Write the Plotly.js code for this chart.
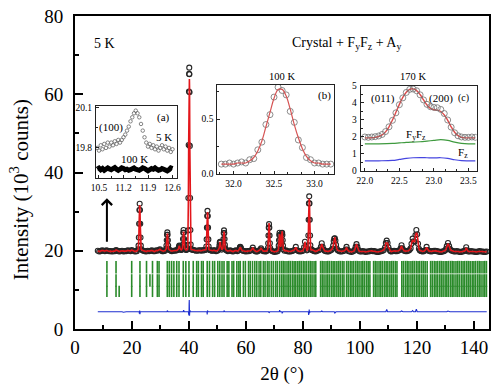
<!DOCTYPE html>
<html>
<head>
<meta charset="utf-8">
<script src="https://cdn.plot.ly/plotly-3.0.1.min.js"></script>
<style>
  html, body { margin: 0; padding: 0; background: #fff; }
  #chart { width: 496px; height: 389px; }
</style>
</head>
<body>
<div id="chart"></div>
<script>
// ---------- Main powder pattern (5 K): observed intensity, [2theta, I (10^3 counts)] ----------
const observed = [
  [8.0,20.0],[8.5,19.8],[9.0,19.9],[9.5,20.1],[10.0,20.0],[10.5,19.9],[11.0,20.1],[11.5,20.0],[12.0,19.9],
  [12.5,19.9],[13.0,19.8],[13.5,19.9],[14.0,19.9],[14.4,20.2],[14.7,20.0],[15.0,20.0],[15.5,19.8],[16.0,19.9],
  [16.5,20.0],[17.0,19.8],[17.5,19.9],[18.0,19.9],[18.5,20.1],[19.0,20.0],[19.5,19.9],[19.9,20.2],[20.4,20.0],
  [21.0,19.8],[21.4,19.9],[21.7,19.9],
  [22.2,20.4],[22.3,21.3],[22.4,23.4],[22.5,26.9],[22.6,30.4],[22.7,32.0],[22.8,30.4],[22.9,26.9],[23.0,23.4],[23.1,21.3],[23.2,20.4],
  [23.6,20.1],[24.0,20.0],[24.5,19.9],[25.0,19.8],[25.5,20.0],[26.0,19.9],[26.5,20.0],[27.0,20.1],[27.5,19.9],
  [28.0,19.9],[28.5,20.1],[29.0,20.0],[29.4,20.2],[29.8,20.4],[30.2,20.1],[30.6,19.9],[31.0,19.9],[31.3,20.0],[31.6,20.0],
  [32.0,20.5],[32.1,21.35],[32.2,22.7],[32.3,24.1],[32.4,24.7],[32.5,24.1],[32.6,22.7],[32.7,21.35],[32.8,20.5],
  [33.1,20.2],[33.4,20.1],[33.7,20.0],[34.0,19.9],[34.5,20.0],[35.0,20.0],[35.4,20.1],[35.8,20.1],[36.0,20.2],
  [36.3,20.4],[36.4,20.75],[36.5,21.1],[36.6,21.3],[36.7,21.1],[36.8,20.75],[36.9,20.4],
  [37.1,20.3],[37.3,20.2],[37.5,20.3],
  [37.7,20.6],[37.8,21.5],[37.9,23.0],[38.0,24.6],[38.1,25.3],[38.2,24.6],[38.3,23.0],[38.4,21.5],[38.5,20.6],
  [38.8,20.3],[39.0,20.2],[39.3,20.3],
  [39.5,20.4],[39.6,21.5],[39.7,25.2],[39.8,33.5],[39.9,47.0],[40.0,60.7],[40.05,65.2],[40.1,66.8],[40.15,65.1],
  [40.2,60.5],[40.3,46.8],[40.4,33.5],[40.5,25.3],[40.6,21.6],[40.7,20.4],
  [40.9,20.3],[41.2,20.3],[41.6,20.2],[42.0,20.1],[42.5,20.0],[43.0,20.0],[43.5,20.1],[44.0,20.1],[44.5,20.0],
  [45.0,20.2],[45.3,20.1],[45.6,20.2],
  [46.0,20.3],[46.1,21.1],[46.2,22.9],[46.3,25.9],[46.4,28.9],[46.5,30.2],[46.6,28.9],[46.7,25.9],[46.8,22.9],[46.9,21.1],[47.0,20.3],
  [47.3,20.2],[47.6,20.1],[48.0,20.0],[48.3,20.0],[48.7,20.1],[49.0,20.1],[49.5,19.9],[50.0,20.0],[50.3,20.2],
  [50.6,20.7],[50.7,21.4],[50.8,22.1],[50.9,22.3],[51.0,22.1],[51.1,21.4],[51.2,20.7],
  [51.5,20.3],
  [51.9,20.6],[52.0,21.5],[52.1,23.0],[52.2,24.5],[52.3,25.2],[52.4,24.5],[52.5,23.0],[52.6,21.5],[52.7,20.6],
  [52.95,20.2],[53.2,20.1],[53.6,19.9],[54.0,20.0],[54.5,20.1],[55.0,19.9],[55.5,19.8],[56.0,20.0],[56.5,20.1],
  [57.0,19.9],[57.4,20.1],
  [57.8,20.6],[57.9,20.9],[58.0,21.0],[58.1,20.9],[58.2,20.6],
  [58.6,20.1],[59.0,20.0],[59.5,19.9],[60.0,19.8],[60.5,19.9],[61.0,19.9],[61.5,20.0],[62.0,20.2],[62.4,20.8],
  [62.8,20.2],[63.2,19.9],[63.6,19.8],[64.0,19.8],[64.5,20.0],[65.0,20.3],[65.3,20.6],[65.7,20.1],[66.1,19.9],
  [66.5,19.9],[66.9,19.8],[67.2,19.9],[67.45,20.1],
  [67.7,20.7],[67.8,21.9],[67.9,23.9],[68.0,25.9],[68.1,26.8],[68.2,25.9],[68.3,23.9],[68.4,21.9],[68.5,20.7],
  [68.75,20.1],[69.0,20.0],[69.5,19.8],[70.0,19.7],[70.4,19.8],[70.8,19.8],[71.1,19.9],
  [71.4,20.4],[71.5,21.3],[71.6,22.7],[71.7,24.0],[71.8,24.6],[71.9,24.0],[72.0,22.8],[72.1,21.6],[72.2,21.0],
  [72.3,21.4],[72.4,22.5],[72.5,23.8],[72.6,24.5],[72.7,24.6],[72.8,24.0],[72.9,22.7],[73.0,21.3],[73.1,20.4],
  [73.5,20.0],[74.0,20.1],[74.5,19.9],[75.0,19.8],[75.5,19.8],[76.0,19.9],[76.5,20.0],[77.0,20.2],[77.5,21.0],
  [78.0,20.1],[78.5,19.9],[79.0,19.8],[79.5,19.9],[80.0,20.0],
  [80.4,20.9],[80.7,22.3],[81.0,21.0],[81.4,20.1],
  [81.7,20.3],[81.8,21.4],[81.9,23.9],[82.0,27.9],[82.1,32.1],[82.2,33.9],[82.3,32.1],[82.4,27.9],[82.5,23.9],[82.6,21.4],[82.7,20.3],
  [83.0,20.3],[83.3,20.2],[83.6,20.0],[84.0,19.9],[84.5,19.8],[85.0,20.0],[85.5,20.1],[86.0,20.3],
  [86.3,21.0],[86.6,21.9],[86.9,21.0],[87.3,20.3],[87.6,20.0],[88.0,19.9],[88.5,19.8],[89.0,19.8],[89.5,20.0],
  [90.0,20.2],[90.3,20.5],
  [90.6,21.3],[90.8,22.5],[91.0,23.1],[91.2,23.2],[91.4,22.6],[91.6,21.5],[91.9,20.5],
  [92.2,20.1],[92.5,20.0],[93.0,19.8],[93.5,19.8],[94.0,19.9],[94.5,20.0],[95.0,20.3],[95.3,21.0],[95.6,20.3],
  [96.0,19.9],[96.5,19.8],[97.0,19.7],[97.5,19.8],[98.0,20.0],[98.2,20.3],
  [98.5,21.0],[98.8,21.7],[99.1,21.0],[99.35,20.3],[99.6,20.0],
  [100.0,19.8],[100.5,19.8],[101.0,19.9],[101.5,19.8],[102.0,19.7],[102.5,19.8],[103.0,19.8],[103.5,19.9],
  [104.0,20.0],[104.5,19.9],[105.0,19.9],[105.5,19.8],[106.0,19.7],[106.5,19.7],[107.0,19.8],[107.5,19.9],
  [108.0,20.0],[108.4,20.2],
  [108.8,20.8],[109.1,22.0],[109.4,22.6],[109.7,22.0],[110.0,20.9],[110.5,20.1],
  [110.75,19.9],[111.0,19.8],[111.5,19.9],[112.0,20.0],[112.5,19.9],[113.0,19.9],[113.5,20.0],[114.0,20.2],
  [114.3,20.6],[114.6,21.4],[114.9,20.6],[115.1,20.3],[115.5,20.0],[116.0,19.9],[116.5,19.9],[117.0,20.0],[117.4,20.2],
  [117.8,20.6],[118.1,21.8],[118.5,23.1],[118.8,22.4],[119.2,22.3],[119.5,24.0],[119.8,25.3],[120.1,24.2],[120.4,21.8],[120.7,20.5],
  [121.0,20.1],[121.2,20.0],[121.6,19.9],[122.0,19.8],[122.5,19.9],[123.0,20.2],[123.4,21.0],[123.8,20.2],
  [124.1,20.0],[124.5,19.9],[125.0,19.8],[125.5,19.9],[126.0,20.0],[126.5,20.0],[127.0,19.9],[127.5,19.8],
  [128.0,19.7],[128.5,19.7],[129.0,19.8],[129.5,19.9],[130.0,20.1],[130.25,20.5],
  [130.5,21.2],[130.9,22.0],[131.3,21.2],[131.55,20.5],[131.8,20.2],
  [132.2,20.0],[132.5,20.0],[133.0,19.8],[133.5,19.8],[134.0,19.9],[134.5,19.8],[135.0,19.7],[135.5,19.7],
  [136.0,19.8],[136.5,19.9],[137.0,20.1],[137.3,20.9],[137.6,20.1],[138.0,19.8],[138.5,19.8],[139.0,19.9],
  [139.5,19.8],[140.0,19.8],[140.5,19.7],[141.0,19.7],[141.5,19.8],[142.0,19.9],[142.5,19.8],[143.0,19.8],
  [143.5,19.7],[144.0,19.7],[144.5,19.8]
];

// Refinement residual (observed - calculated) at the points where the fit departs from the data
const residual = [
  [12.0,0.1],[17.0,-0.1],[22.6,-0.5],[22.7,0.3],[22.8,-0.6],[28.0,0.1],[32.4,0.3],[38.1,0.4],
  [39.9,-0.6],[40.0,-0.9],[40.05,2.0],[40.1,3.0],[40.15,1.2],[40.2,-1.0],[40.3,0.4],
  [46.4,-0.7],[46.5,0.3],[46.6,-0.5],[52.3,0.3],[58.0,0.15],[68.1,-0.3],[71.8,0.4],[72.7,-0.4],[77.5,0.15],
  [82.0,-0.8],[82.1,-0.5],[82.2,0.6],[82.3,-0.3],[86.6,0.2],[91.2,-0.3],[95.3,0.15],[109.4,0.6],
  [114.6,0.2],[118.5,0.3],[119.8,0.7],[123.4,0.15],[130.9,0.2],[137.3,0.15]
];

// Bragg reflection positions (2theta) for the three refined phases
const braggShared = [
  11.2, 14.4, 19.9, 22.8, 25.1, 27.2, 28.9, 29.5, 32.4, 33.1, 33.9, 34.7, 35.7, 36.5, 38.0, 38.9, 40.0,
  41.5, 42.7, 43.3, 44.4, 45.0, 46.4, 47.2, 48.3, 49.0, 50.1, 50.8, 51.6, 52.3, 53.4, 54.0, 55.1, 55.7,
  56.8, 57.5, 58.0, 59.1, 59.8, 60.9, 61.5, 62.3, 63.1, 63.8, 64.6, 65.2, 66.1, 66.7, 67.5, 68.1, 68.9,
  69.6, 70.4, 71.0, 71.8, 72.5, 73.1, 73.7, 74.4, 75.0, 75.6, 76.3, 76.9, 77.5, 78.2, 78.8, 79.4, 80.1,
  80.7, 81.3, 82.0, 82.6, 83.2, 83.9, 84.5, 86.2, 86.8, 87.4, 88.1, 88.7, 89.3, 90.0, 90.6, 91.2, 91.9,
  92.5, 93.1, 93.8, 94.4, 95.3, 95.9, 96.6, 97.2, 97.8, 98.5, 99.1, 99.7, 100.4, 101.0, 101.6, 102.3,
  102.9, 103.5, 104.8, 105.4, 106.0, 106.7, 107.3, 107.9, 108.6, 109.2, 109.8, 110.5, 111.1, 111.7,
  112.4, 113.0, 114.7, 115.3, 116.0, 116.6, 117.2, 117.9, 118.5, 119.1, 119.8, 120.4, 121.0, 121.7,
  122.3, 122.9, 123.6, 124.8, 125.4, 126.1, 126.7, 127.3, 128.0, 128.6, 129.2, 129.9, 130.5, 131.1,
  131.8, 132.4, 133.0, 133.7, 134.3, 134.9, 135.6, 136.2, 136.8, 137.5, 138.1, 138.7, 139.4, 140.0,
  140.6, 141.3, 141.9, 142.5, 143.2, 143.8, 144.4
];
const braggCrystalExtra = [];
const braggFyFzExtra = [26.3];
const braggAyExtra = [15.5];

// ---------- Inset (a): (100) reflection, 5 K vs 100 K ----------
const aTheta = [10.45,10.50,10.55,10.60,10.65,10.70,10.75,10.80,10.85,10.90,10.95,11.00,11.05,11.10,11.15,
  11.20,11.25,11.30,11.35,11.40,11.45,11.50,11.55,11.60,11.65,11.70,11.75,11.80,11.85,11.90,11.95,12.00,
  12.05,12.10,12.15,12.20,12.25,12.30,12.35,12.40,12.45,12.50,12.55,12.60];
const a5K = [19.80,19.78,19.82,19.79,19.83,19.80,19.84,19.81,19.84,19.82,19.85,19.83,19.86,19.84,19.86,
  19.88,19.90,19.93,19.96,20.00,20.03,20.06,20.08,20.06,20.03,19.98,19.93,19.88,19.84,19.81,19.83,19.80,
  19.82,19.79,19.81,19.78,19.80,19.82,19.79,19.81,19.78,19.80,19.77,19.79];
const a100K = [19.640,19.648,19.636,19.645,19.632,19.640,19.650,19.642,19.636,19.645,19.652,19.640,19.632,
  19.640,19.650,19.646,19.636,19.640,19.632,19.636,19.645,19.650,19.640,19.636,19.632,19.640,19.650,19.646,
  19.636,19.628,19.636,19.645,19.640,19.650,19.640,19.632,19.636,19.645,19.640,19.632,19.628,19.636,19.650,19.645];
const aTickVals = [10.5, 11.2, 11.9, 12.6];
const aTickText = ['10.5', '11.2', '11.9', '12.6'];
const aYTickVals = [19.8, 20.1];
const aYTickText = ['19.8', '20.1'];

// ---------- Inset (b): 100 K peak near 32.6 deg ----------
const bTheta = [31.85,31.90,31.95,32.00,32.05,32.10,32.15,32.20,32.25,32.30,32.35,32.40,32.45,32.50,
  32.55,32.60,32.65,32.70,32.75,32.80,32.85,32.90,32.95,33.00,33.05,33.10,33.15,33.20];
const bObs = [0.09,0.09,0.10,0.09,0.10,0.11,0.10,0.13,0.14,0.22,0.29,0.45,0.54,0.70,0.79,0.76,0.72,0.57,
  0.47,0.31,0.24,0.15,0.13,0.10,0.10,0.09,0.09,0.09];
const bCalc = [0.09,0.09,0.09,0.09,0.10,0.10,0.10,0.12,0.15,0.21,0.30,0.43,0.56,0.69,0.77,0.77,0.71,0.59,
  0.45,0.33,0.23,0.16,0.12,0.10,0.10,0.09,0.09,0.09];
const bTickVals = [32.0, 32.5, 33.0];
const bTickText = ['32.0', '32.5', '33.0'];
const bYTickVals = [0, 0.5];
const bYTickText = ['0.0', '0.5'];

// ---------- Inset (c): 170 K (011)/(200) doublet with phase contributions ----------
const cTheta = [22.00,22.05,22.10,22.15,22.20,22.25,22.30,22.35,22.40,22.45,22.50,22.55,22.60,22.65,22.70,
  22.75,22.80,22.85,22.90,22.95,23.00,23.05,23.10,23.15,23.20,23.25,23.30,23.35,23.40,23.45,23.50,23.55,23.60];
const cObs = [2.00,1.98,2.00,2.02,2.06,2.15,2.32,2.60,2.98,3.42,3.90,4.30,4.62,4.80,4.82,4.72,4.48,4.18,
  3.92,3.78,3.74,3.72,3.62,3.38,3.00,2.58,2.25,2.07,2.00,1.98,1.98,2.00,1.98];
const cCalc = [1.95,1.95,1.96,1.98,2.03,2.12,2.30,2.60,3.00,3.45,3.92,4.33,4.63,4.80,4.83,4.73,4.50,4.18,
  3.88,3.68,3.60,3.58,3.50,3.30,2.98,2.60,2.28,2.08,1.98,1.95,1.95,1.95,1.95];
const cPhaseTheta = [22.0,22.2,22.4,22.5,22.6,22.7,22.8,22.9,23.0,23.1,23.2,23.3,23.4,23.5,23.6];
const cFyFz = [1.60,1.60,1.62,1.65,1.68,1.70,1.72,1.76,1.80,1.84,1.80,1.70,1.63,1.60,1.60];
const cFz = [0.60,0.60,0.62,0.68,0.74,0.78,0.79,0.78,0.77,0.78,0.74,0.66,0.61,0.60,0.60];
const cTickVals = [22.0, 22.5, 23.0, 23.5];
const cTickText = ['22.0', '22.5', '23.0', '23.5'];
const cYTickVals = [0, 1, 2, 3, 4, 5];
const cYTickText = ['0', '1', '2', '3', '4', '5'];

// Main axis ticks
const mainXTicks = [0, 20, 40, 60, 80, 100, 120, 140];
const mainYTicks = [0, 20, 40, 60, 80];

// ---------- derived series ----------
const twoTheta = observed.map(p => p[0]);
const yObs = observed.map(p => p[1]);
const residMap = new Map(residual.map(p => [p[0].toFixed(2), p[1]]));
const yResid = twoTheta.map(t => residMap.get(t.toFixed(2)) || 0);
const yCalc = yObs.map((v, i) => v - yResid[i]);
const diffOffset = 4.4;
const yDiff = yResid.map(r => r + diffOffset);

const rowLevels = { crystal: 15.8, fyfz: 12.4, ay: 9.6 };
const braggRows = [
  { pos: braggShared.concat(braggCrystalExtra), level: rowLevels.crystal, size: 9 },
  { pos: braggShared.concat(braggFyFzExtra), level: rowLevels.fyfz, size: 9 },
  { pos: braggShared.concat(braggAyExtra), level: rowLevels.ay, size: 8 }
];

const RED = '#e3161b', GREEN = '#2a8a2a', BLUE = '#1e2fd0';

const traces = [];
braggRows.forEach(r => traces.push({
  type: 'scatter', mode: 'markers', x: r.pos, y: r.pos.map(() => r.level),
  marker: { symbol: 'line-ns', size: r.size, color: GREEN, line: { width: 1.6, color: GREEN } },
  hoverinfo: 'skip'
}));
traces.push({ type: 'scatter', mode: 'lines', x: twoTheta, y: yDiff,
  line: { color: BLUE, width: 1.1 } });
traces.push({ type: 'scatter', mode: 'markers', x: twoTheta, y: yObs,
  marker: { symbol: 'circle-open', size: 5, color: '#262626', line: { width: 1.1 } } });
traces.push({ type: 'scatter', mode: 'lines', x: twoTheta, y: yCalc,
  line: { color: RED, width: 1.6 } });

// inset (a)
traces.push({ type: 'scatter', mode: 'markers', x: aTheta, y: a5K, xaxis: 'x2', yaxis: 'y2',
  marker: { symbol: 'circle-open', size: 3.5, color: '#666', line: { width: 0.8 } } });
traces.push({ type: 'scatter', mode: 'lines', x: aTheta, y: a100K, xaxis: 'x2', yaxis: 'y2',
  line: { color: '#000', width: 5 } });
// inset (b)
traces.push({ type: 'scatter', mode: 'markers', x: bTheta, y: bObs, xaxis: 'x3', yaxis: 'y3',
  marker: { symbol: 'circle-open', size: 6, color: '#6e6e6e', line: { width: 0.8 } } });
traces.push({ type: 'scatter', mode: 'lines', x: bTheta, y: bCalc, xaxis: 'x3', yaxis: 'y3',
  line: { color: '#d65454', width: 1.2, shape: 'spline' } });
// inset (c)
traces.push({ type: 'scatter', mode: 'lines', x: cPhaseTheta, y: cFyFz, xaxis: 'x4', yaxis: 'y4',
  line: { color: '#3f9a3f', width: 1.2, shape: 'spline' } });
traces.push({ type: 'scatter', mode: 'lines', x: cPhaseTheta, y: cFz, xaxis: 'x4', yaxis: 'y4',
  line: { color: '#4646e0', width: 1.2, shape: 'spline' } });
traces.push({ type: 'scatter', mode: 'lines', x: cTheta, y: cCalc, xaxis: 'x4', yaxis: 'y4',
  line: { color: '#e04a4a', width: 1.4, shape: 'spline' } });
traces.push({ type: 'scatter', mode: 'markers', x: cTheta, y: cObs, xaxis: 'x4', yaxis: 'y4',
  marker: { symbol: 'circle-open', size: 6, color: '#707070', line: { width: 0.8 } } });

function insetAxis(domain, range, vals, text, minorVals, anchor) {
  return {
    domain: domain, range: range, anchor: anchor,
    tickmode: 'array', tickvals: vals, ticktext: text,
    ticks: 'inside', ticklen: 3, tickwidth: 1, tickcolor: '#222',
    minor: { tickmode: 'array', tickvals: minorVals, ticks: 'inside', ticklen: 2, tickwidth: 1, tickcolor: '#222' },
    showline: true, linewidth: 1, linecolor: '#222', mirror: true,
    showgrid: false, zeroline: false, ticklabelstandoff: 1,
    tickfont: { size: 9.5, family: 'Liberation Serif' }
  };
}

const serif = 'Liberation Serif, Times New Roman, serif';
const layout = {
  width: 496, height: 389,
  margin: { l: 75, r: 7, t: 16, b: 60 },
  paper_bgcolor: '#fff', plot_bgcolor: '#fff',
  font: { family: serif, color: '#000', size: 19 },
  showlegend: false,
  xaxis: {
    domain: [0, 1], range: [0, 145.3], anchor: 'y',
    tickmode: 'array', tickvals: mainXTicks,
    ticks: 'inside', ticklen: 8, tickwidth: 2, tickcolor: '#000',
    minor: { tickmode: 'array', tickvals: [10, 30, 50, 70, 90, 110, 130], ticks: 'inside', ticklen: 4, tickwidth: 2, tickcolor: '#000' },
    showline: true, linewidth: 2, linecolor: '#000', mirror: true,
    showgrid: false, zeroline: false,
    tickfont: { size: 19 },
    title: { text: '2θ (°)', font: { size: 19 }, standoff: 10 }
  },
  yaxis: {
    domain: [0, 1], range: [0, 80], anchor: 'x',
    tickmode: 'array', tickvals: mainYTicks,
    ticks: 'inside', ticklen: 8, tickwidth: 2, tickcolor: '#000',
    minor: { tickmode: 'array', tickvals: [10, 30, 50, 70], ticks: 'inside', ticklen: 4, tickwidth: 2, tickcolor: '#000' },
    showline: true, linewidth: 2, linecolor: '#000', mirror: true,
    showgrid: false, zeroline: false, ticklabelstandoff: 6,
    tickfont: { size: 19 }
  },
  xaxis2: insetAxis([0.0507, 0.2452], [10.414, 12.714], aTickVals, aTickText, [10.85, 11.55, 12.25], 'y2'),
  yaxis2: insetAxis([0.4824, 0.7125], [19.574, 20.115], aYTickVals, aYTickText, [19.65, 19.95], 'x2'),
  xaxis3: insetAxis([0.3437, 0.6256], [31.80, 33.24], bTickVals, bTickText,
    [31.8333, 32.1667, 32.3333, 32.6667, 32.8333, 33.1667], 'y3'),
  yaxis3: insetAxis([0.4952, 0.7796], [0, 0.81], bYTickVals, bYTickText, [0.25, 0.75], 'x3'),
  xaxis4: insetAxis([0.6901, 0.9703], [21.94, 23.62], cTickVals, cTickText,
    [22.1667, 22.3333, 22.6667, 22.8333, 23.1667, 23.3333], 'y4'),
  yaxis4: insetAxis([0.5048, 0.7764], [0, 5], cYTickVals, cYTickText, [0.5, 1.5, 2.5, 3.5, 4.5], 'x4'),
  annotations: [
    { xref: 'paper', yref: 'paper', x: -0.135, y: 0.444, textangle: -90, showarrow: false,
      text: 'Intensity (10<sup>3</sup> counts)', font: { size: 21 }, xanchor: 'center', yanchor: 'middle' },
    { xref: 'x', yref: 'y', x: 10.5, y: 73, text: '5 K', showarrow: false, font: { size: 14 } },
    { xref: 'x', yref: 'y', x: 95.4, y: 73, text: 'Crystal + F<sub>y</sub>F<sub>z</sub> + A<sub>y</sub>',
      showarrow: false, font: { size: 14 } },
    { xref: 'x', yref: 'y', x: 72.6, y: 64.5, text: '100 K', showarrow: false, font: { size: 10.5 } },
    { xref: 'x', yref: 'y', x: 118.6, y: 64.5, text: '170 K', showarrow: false, font: { size: 10.5 } },
    { xref: 'x', yref: 'y', x: 11.2, y: 33.4, ax: 11.2, ay: 21.9, axref: 'x', ayref: 'y', text: '',
      showarrow: true, arrowhead: 4, arrowsize: 1, arrowwidth: 2, arrowcolor: '#000' },
    // inset (a)
    { xref: 'x2', yref: 'y2', x: 10.84, y: 19.955, text: '(100)', showarrow: false, font: { size: 11 } },
    { xref: 'x2', yref: 'y2', x: 12.33, y: 20.03, text: '(a)', showarrow: false, font: { size: 11 } },
    { xref: 'x2', yref: 'y2', x: 12.36, y: 19.88, text: '5 K', showarrow: false, font: { size: 11 } },
    { xref: 'x2', yref: 'y2', x: 11.5, y: 19.715, text: '100 K', showarrow: false, font: { size: 11 } },
    // inset (b)
    { xref: 'x3', yref: 'y3', x: 33.117, y: 0.718, text: '(b)', showarrow: false, font: { size: 11 } },
    // inset (c)
    { xref: 'x4', yref: 'y4', x: 22.265, y: 4.24, text: '(011)', showarrow: false, font: { size: 11 } },
    { xref: 'x4', yref: 'y4', x: 23.11, y: 4.24, text: '(200)', showarrow: false, font: { size: 11 } },
    { xref: 'x4', yref: 'y4', x: 23.43, y: 4.29, text: '(c)', showarrow: false, font: { size: 10 } },
    { xref: 'x4', yref: 'y4', x: 22.745, y: 2.1, text: 'F<sub>y</sub>F<sub>z</sub>', showarrow: false, font: { size: 11 } },
    { xref: 'x4', yref: 'y4', x: 23.415, y: 1.05, text: 'F<sub>z</sub>', showarrow: false, font: { size: 11 } }
  ]
};

Plotly.newPlot('chart', traces, layout, { displayModeBar: false, staticPlot: true });
</script>
</body>
</html>
